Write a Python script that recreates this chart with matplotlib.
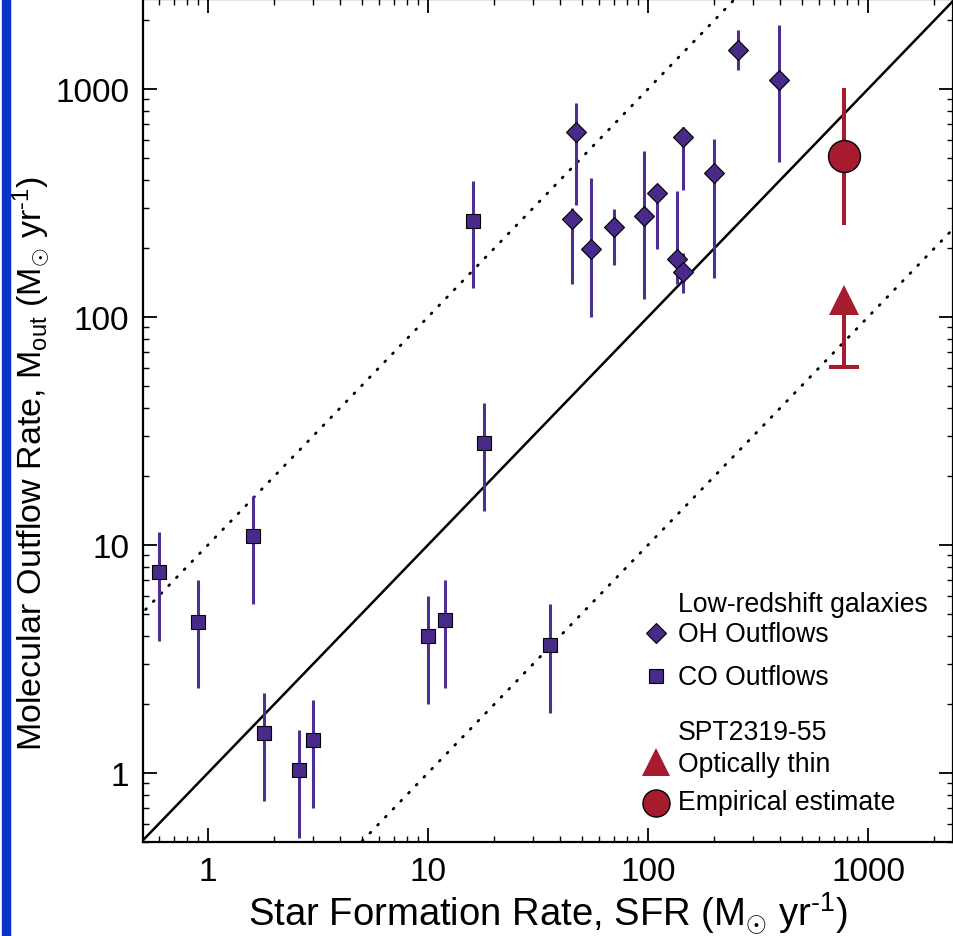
import matplotlib
matplotlib.use("Agg")
import matplotlib.pyplot as plt
from matplotlib.patches import Rectangle
import numpy as np

plt.rcParams['font.family'] = ['Liberation Sans', 'DejaVu Sans']
plt.rcParams['mathtext.fontset'] = 'custom'
plt.rcParams['mathtext.rm'] = 'Liberation Sans'
plt.rcParams['mathtext.it'] = 'Liberation Sans:italic'
plt.rcParams['mathtext.bf'] = 'Liberation Sans:bold'

# CO outflows (low-redshift galaxies)
co_sfr = np.array([0.6, 0.9, 1.6, 1.8, 2.6, 3.0, 10, 12, 36, 16, 18])
co_mout = np.array([7.6, 4.6, 11, 1.5, 1.03, 1.4, 4.0, 4.7, 3.65, 264, 28])
co_low = np.array([3.8, 2.35, 5.5, 0.75, 0.52, 0.70, 2.0, 2.35, 1.83, 134, 14.1])
co_high = np.array([11.4, 7.0, 16.4, 2.24, 1.55, 2.1, 6.0, 7.0, 5.5, 396, 42])

# OH outflows (low-redshift galaxies)
oh_sfr = np.array([47, 45, 55, 70, 96, 110, 145, 136, 144, 200, 257, 395])
oh_mout = np.array([646, 269, 199, 249, 278, 349, 618, 180, 158, 428, 1487, 1094])
oh_low = np.array([310, 140, 100, 169, 120, 199, 361, 140, 127, 149, 1216, 477])
oh_high = np.array([868, 300, 406, 298, 533, 380, 680, 356, 190, 604, 1820, 1915])

# SPT2319-55
spt_sfr = np.array([780])
emp_mout = np.array([507])
emp_low = np.array([254])
emp_high = np.array([1007])
thin_mout = np.array([119])
thin_limit = np.array([60.4])

purple = '#4a2a88'
purple_bar = '#4e2f96'
red = '#a61b2e'

fig = plt.figure(figsize=(9.54, 9.37), dpi=100)
ax = fig.add_axes([143/954, 94/937, 810/954, 843/937])

# blue strip at the left edge
fig.patches.append(Rectangle((2/954, 0), 8/954, 1, transform=fig.transFigure,
                             color='#0833c9', zorder=5))

# one-to-one and factor of ten lines
xx = np.array([0.1, 10000])
ax.plot(xx, xx, color='black', lw=1.8, zorder=1)
ax.plot(xx, 10*xx, color='black', lw=2.0, ls=(0, (0.4, 3.6)),
        dash_capstyle='round', zorder=1)
ax.plot(xx, 0.1*xx, color='black', lw=2.0, ls=(0, (0.4, 3.6)),
        dash_capstyle='round', zorder=1)

ax.errorbar(co_sfr, co_mout, yerr=[co_mout - co_low, co_high - co_mout],
            fmt='s', ms=10.5, mfc=purple, mec='black', mew=0.8,
            ecolor=purple_bar, elinewidth=2.2, capsize=0, zorder=3)
ax.errorbar(oh_sfr, oh_mout, yerr=[oh_mout - oh_low, oh_high - oh_mout],
            fmt='D', ms=10, mfc=purple, mec='black', mew=0.8,
            ecolor=purple_bar, elinewidth=2.2, capsize=0, zorder=3)

ax.errorbar(spt_sfr, emp_mout, yerr=[emp_mout - emp_low, emp_high - emp_mout],
            fmt='o', ms=23, mfc=red, mec='black', mew=1.0,
            ecolor=red, elinewidth=2.9, capsize=0, zorder=4)
ax.errorbar(spt_sfr, thin_mout, yerr=[thin_mout - thin_limit, 0*thin_mout],
            fmt='^', ms=22, mfc=red, mec=red, mew=0,
            ecolor=red, elinewidth=2.9, capsize=0, zorder=4)
ax.plot(spt_sfr, thin_limit, marker='_', ms=22, mew=2.9, color=red, zorder=4)

ax.set_xscale('log')
ax.set_yscale('log')
ax.set_xlim(0.507, 2433)
ax.set_ylim(0.498, 2483)

ticks = [1, 10, 100, 1000]
tick_labels = ['1', '10', '100', '1000']
ax.set_xticks(ticks, tick_labels)
ax.set_yticks(ticks, tick_labels)
ax.tick_params(which='both', direction='in', top=True, right=True)
ax.tick_params(which='major', length=10, width=1.3, labelsize=24, pad=10)
ax.tick_params(which='minor', length=4, width=1.0)
for s in ax.spines.values():
    s.set_linewidth(1.6)

ax.set_xlabel(r'Star Formation Rate, SFR (M$_{\odot}$ yr$^{\text{-1}}$)', fontsize=27.5)
ax.set_ylabel(r'Molecular Outflow Rate, M$_{\rm out}$ (M$_{\odot}$ yr$^{\text{-1}}$)',
              fontsize=24.5)
ax.xaxis.set_label_coords(0.5, -0.057)
ax.yaxis.set_label_coords(-0.112, 0.45)

# legend drawn by hand
key_x = 0.633
text_x = 0.6605
fs = 19.2
ax.text(text_x, 0.2746, 'Low-redshift galaxies', transform=ax.transAxes,
        fontsize=fs, va='baseline')
ax.plot(key_x, 0.2479, 'D', ms=10, mfc=purple, mec='black', mew=0.8,
        transform=ax.transAxes)
ax.text(text_x, 0.2384, 'OH Outflows', transform=ax.transAxes,
        fontsize=fs, va='baseline')
ax.plot(key_x, 0.1969, 's', ms=10.5, mfc=purple, mec='black', mew=0.8,
        transform=ax.transAxes)
ax.text(text_x, 0.1874, 'CO Outflows', transform=ax.transAxes,
        fontsize=fs, va='baseline')
ax.text(text_x, 0.1222, 'SPT2319-55', transform=ax.transAxes,
        fontsize=fs, va='baseline')
ax.plot(key_x, 0.0949, '^', ms=19.5, mfc=red, mec=red, mew=0,
        transform=ax.transAxes)
ax.text(text_x, 0.0848, 'Optically thin', transform=ax.transAxes,
        fontsize=fs, va='baseline')
ax.plot(key_x, 0.0463, 'o', ms=19.5, mfc=red, mec='black', mew=1.0,
        transform=ax.transAxes)
ax.text(text_x, 0.0391, 'Empirical estimate', transform=ax.transAxes,
        fontsize=fs, va='baseline')

fig.savefig('out.png', dpi=100)
